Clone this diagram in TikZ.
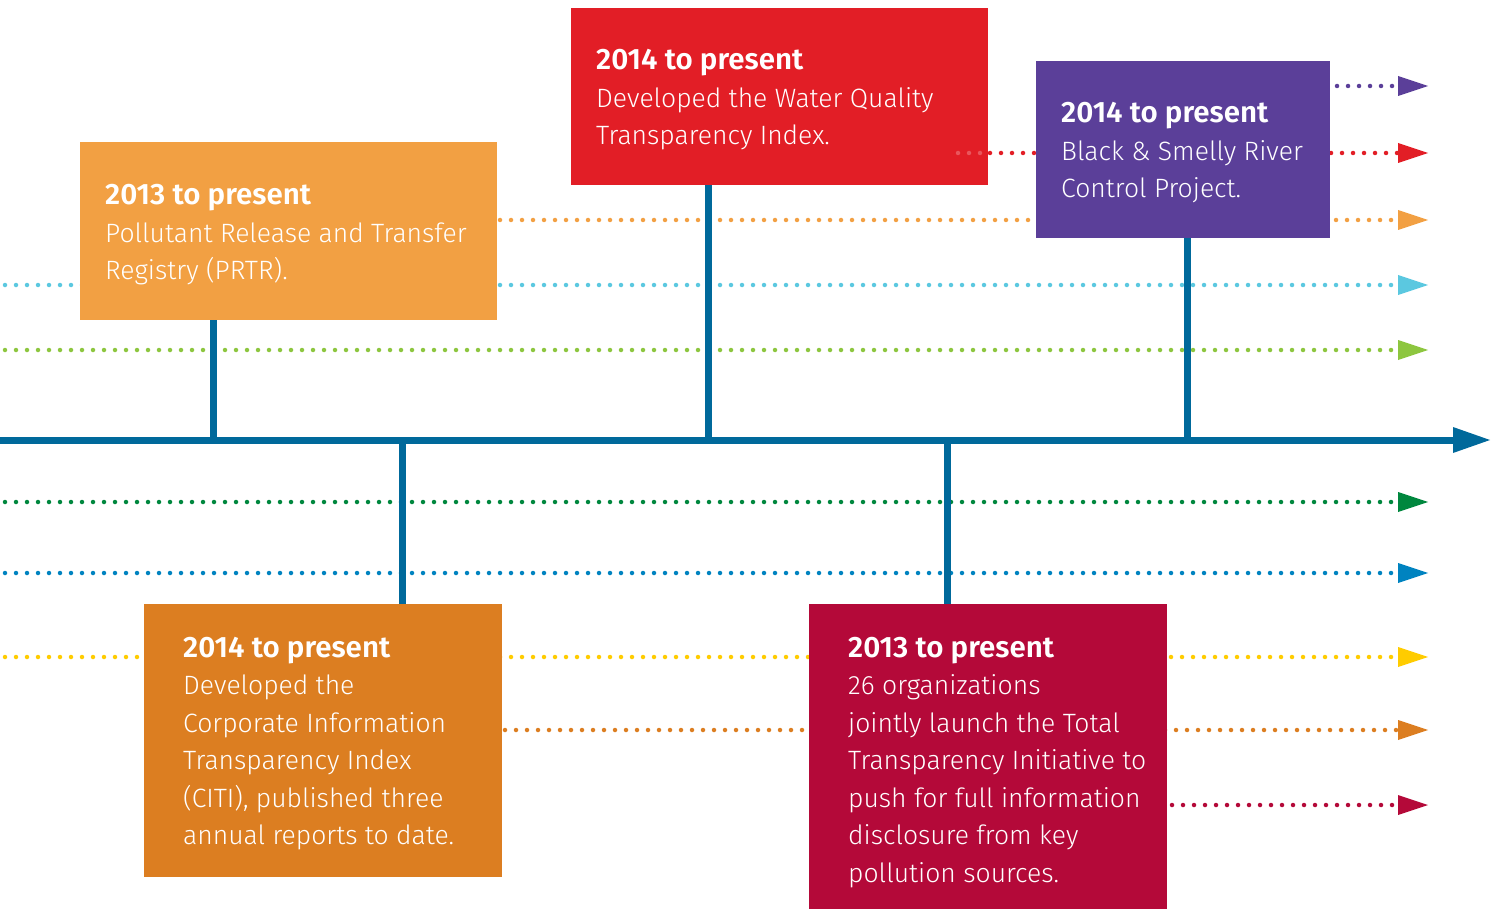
\documentclass[tikz,border=0pt]{standalone}
\usepackage{fontspec}
\setmainfont{Fira Sans}[UprightFont={* Light},BoldFont={* SemiBold}]
\definecolor{cLorange}{HTML}{F2A043}
\definecolor{cRed}{HTML}{E21E26}
\definecolor{cPurple}{HTML}{5B3F99}
\definecolor{cDorange}{HTML}{DC7E21}
\definecolor{cCrimson}{HTML}{B40939}
\definecolor{cAxis}{HTML}{00699B}
\definecolor{cCyan}{HTML}{5BC8E0}
\definecolor{cLgreen}{HTML}{8DC63F}
\definecolor{cDgreen}{HTML}{00873E}
\definecolor{cBlue}{HTML}{0083C0}
\definecolor{cYellow}{HTML}{FFCC00}
\newcommand\boxtext[2]{\parbox[t]{520pt}{\fontsize{26.5}{37.5}\selectfont{\bfseries\fontsize{29.5}{37.5}\selectfont #1}\\ #2}}
\newcommand\track[3]{%
  \coordinate (s#1) at (#3,#2);
  \coordinate (e#1) at (1398,#2);
  \draw[dotline,#1] (s#1) -- (e#1);
  \fill[#1] ([yshift=10pt]e#1) -- ++(30,10) -- ++(-30,10) -- cycle;}
\begin{document}
\begin{tikzpicture}[x=1pt,y=-1pt,
  dotline/.style={line width=4.5pt,dash pattern=on 0pt off 11pt,line cap=round},
  eventbox/.style={anchor=north west,inner sep=0,outer sep=0,draw=none},
  txt/.style={anchor=base west,inner sep=0,text=white},
  stem/.style={line width=7pt,cAxis}]
\useasboundingbox (0,0) rectangle (1493,909);
% dotted tracks
\track{cPurple}{86}{1040}
\track{cRed}{153}{990}
\track{cLorange}{220}{500}
\track{cCyan}{285}{5}
\track{cLgreen}{350}{5}
\track{cDgreen}{502}{5}
\track{cBlue}{573}{5}
\track{cYellow}{657}{5}
\track{cDorange}{730}{505}
\track{cCrimson}{805}{1172}
% axis
\coordinate (a0) at (0,440);
\coordinate (a1) at (1453,440);
\coordinate (p1) at (213,440);
\coordinate (p2) at (708,440);
\coordinate (p3) at (1187,440);
\coordinate (p4) at (402,440);
\coordinate (p5) at (947,440);
\draw[line width=7pt,cAxis] (a0) -- (a1);
\fill[cAxis] ([yshift=13pt]a1) -- ++(37,13) -- ++(-37,13) -- cycle;
% boxes
\node[eventbox,fill=cLorange,minimum width=417pt,minimum height=178pt] (b1) at (80,142) {};
\node[eventbox,fill=cRed,minimum width=417pt,minimum height=177pt] (b2) at (571,8) {};
\node[eventbox,fill=cPurple,minimum width=294pt,minimum height=177pt] (b3) at (1036,61) {};
\node[eventbox,fill=cDorange,minimum width=358pt,minimum height=273pt] (b4) at (144,604) {};
\node[eventbox,fill=cCrimson,minimum width=358pt,minimum height=305pt] (b5) at (809,604) {};
% faded red dots on red box
\draw[dotline,cRed!75!white] (958,153) -- (986,153);
% stems
\draw[stem] (b1.south -| p1) -- (p1);
\draw[stem] (b2.south -| p2) -- (p2);
\draw[stem] (b3.south -| p3) -- (p3);
\draw[stem] (p4) -- (b4.north -| p4);
\draw[stem] (p5) -- (b5.north -| p5);
% texts
\node[txt] (t1) at (105,205) {\boxtext{2013 to present}{Pollutant Release and Transfer\\ Registry (PRTR).}};
\node[txt] (t2) at (596,70) {\boxtext{2014 to present}{Developed the Water Quality\\ Transparency Index.}};
\node[txt] (t3) at (1061,123) {\boxtext{2014 to present}{Black \& Smelly River\\ Control Project.}};
\node[txt] (t4) at (183,657) {\boxtext{2014 to present}{Developed the\\ Corporate Information\\ Transparency Index\\ (CITI), published three\\ annual reports to date.}};
\node[txt] (t5) at (848,657) {\boxtext{2013 to present}{26 organizations\\ jointly launch the Total\\ Transparency Initiative to\\ push for full information\\ disclosure from key\\ pollution sources.}};
\end{tikzpicture}
\end{document}
